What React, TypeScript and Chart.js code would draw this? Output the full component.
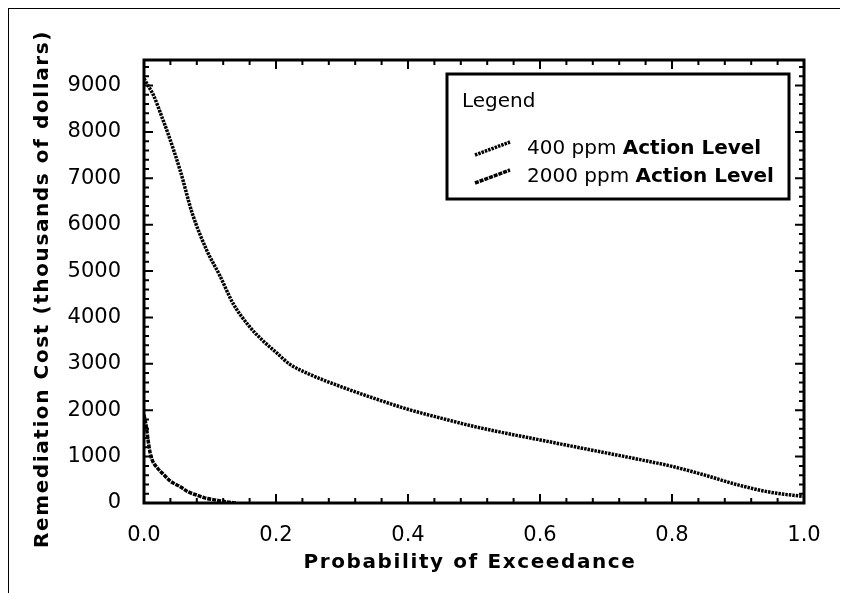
import React, { useEffect, useRef } from 'react';
import { Chart, registerables } from 'chart.js';

Chart.register(...registerables);

// ---- data ----
const x400 = [0, 0.006, 0.014, 0.029, 0.036, 0.055, 0.073, 0.095, 0.115, 0.135, 0.16, 0.18, 0.2, 0.22, 0.25, 0.3, 0.35, 0.4, 0.45, 0.5, 0.55, 0.6, 0.65, 0.7, 0.75, 0.8, 0.85, 0.9, 0.95, 1.0];
const y400 = [9150, 9000, 8800, 8250, 7980, 7160, 6250, 5450, 4900, 4300, 3800, 3500, 3250, 3000, 2780, 2500, 2250, 2020, 1830, 1650, 1500, 1360, 1220, 1080, 940, 790, 600, 390, 230, 140];
const x2000 = [0, 0.004, 0.006, 0.009, 0.012, 0.02, 0.03, 0.04, 0.055, 0.067, 0.08, 0.092, 0.11, 0.126, 0.14];
const y2000 = [1900, 1600, 1370, 1100, 940, 760, 610, 470, 350, 240, 170, 110, 60, 20, 0];
const seriesLabels = ['400 ppm Action Level', '2000 ppm Action Level'];
const xTickValues = [0, 0.2, 0.4, 0.6, 0.8, 1.0];
const yTickValues = [0, 1000, 2000, 3000, 4000, 5000, 6000, 7000, 8000, 9000];
const xTitle = 'Probability of Exceedance';
const yTitle = 'Remediation Cost (thousands of dollars)';
const legendTitle = 'Legend';

const FONT = "'DejaVu Sans', sans-serif";

const frameLegendPlugin = {
  id: 'frameLegend',
  afterDatasetsDraw(chart: any) {
    const { ctx, chartArea: a, scales } = chart;
    const xs = scales.x;
    const ys = scales.y;
    ctx.save();
    ctx.strokeStyle = '#000';
    ctx.fillStyle = '#000';
    ctx.setLineDash([]);

    // outer figure border (left + top)
    ctx.fillRect(7, 7, 2, chart.height - 7);
    ctx.fillRect(7, 7, 838, 2);

    // inward ticks
    ctx.lineWidth = 2;
    ctx.beginPath();
    for (let i = 0; i <= 25; i++) {
      const px = xs.getPixelForValue(i * 0.04);
      const len = i % 5 === 0 ? 9 : 5;
      ctx.moveTo(px, a.bottom);
      ctx.lineTo(px, a.bottom - len);
      ctx.moveTo(px, a.top);
      ctx.lineTo(px, a.top + len);
    }
    for (let i = 0; i * 200 <= ys.max; i++) {
      const py = ys.getPixelForValue(i * 200);
      const len = i % 5 === 0 ? 9 : 5;
      ctx.moveTo(a.left, py);
      ctx.lineTo(a.left + len, py);
      ctx.moveTo(a.right, py);
      ctx.lineTo(a.right - len, py);
    }
    ctx.stroke();
    ctx.lineWidth = 3;
    ctx.strokeRect(a.left, a.top, a.right - a.left, a.bottom - a.top);

    // axis titles (letter-spaced bold)
    ctx.save();
    (ctx as any).letterSpacing = '1.6px';
    ctx.font = `bold 20px ${FONT}`;
    ctx.textAlign = 'center';
    ctx.textBaseline = 'middle';
    ctx.fillText(xTitle, (a.left + a.right) / 2 - 4, 563);
    ctx.translate(43, 289);
    ctx.rotate(-Math.PI / 2);
    ctx.fillText(yTitle, 0, 0);
    ctx.restore();

    // legend box
    const bx = a.right - 357;
    const by = a.top + 14;
    const bw = 342;
    const bh = 125;
    ctx.fillStyle = '#fff';
    ctx.fillRect(bx, by, bw, bh);
    ctx.lineWidth = 3;
    ctx.strokeRect(bx, by, bw, bh);
    ctx.fillStyle = '#000';
    ctx.textBaseline = 'middle';
    ctx.textAlign = 'left';
    ctx.font = `20px ${FONT}`;
    ctx.fillText(legendTitle, bx + 15, by + 28);
    const rows = [by + 75, by + 103];
    chart.data.datasets.forEach((ds: any, i: number) => {
      const ry = rows[i];
      ctx.save();
      ctx.lineWidth = ds.borderWidth;
      ctx.setLineDash(ds.borderDash || []);
      ctx.beginPath();
      ctx.moveTo(bx + 28, ry + 6);
      ctx.lineTo(bx + 63, ry - 7);
      ctx.stroke();
      ctx.restore();
      const m = /^(\S+ \S+ )(.*)$/.exec(ds.label);
      let tx = bx + 80;
      if (m) {
        ctx.font = `20px ${FONT}`;
        ctx.fillText(m[1], tx, ry);
        tx += ctx.measureText(m[1]).width;
        ctx.font = `bold 20px ${FONT}`;
        ctx.fillText(m[2], tx, ry);
      } else {
        ctx.font = `20px ${FONT}`;
        ctx.fillText(ds.label, tx, ry);
      }
    });
    ctx.restore();
  },
};

export default function App() {
  const ref = useRef<HTMLCanvasElement | null>(null);
  useEffect(() => {
    if (!ref.current) return;
    const chart = new Chart(ref.current, {
      type: 'line',
      data: {
        datasets: [
          {
            label: seriesLabels[0],
            data: x400.map((x, i) => ({ x, y: y400[i] })),
            borderColor: '#000',
            borderWidth: 3.5,
            borderDash: [2.5, 1],
            pointRadius: 0,
            fill: false,
            cubicInterpolationMode: 'monotone',
          },
          {
            label: seriesLabels[1],
            data: x2000.map((x, i) => ({ x, y: y2000[i] })),
            borderColor: '#000',
            borderWidth: 3.5,
            borderDash: [4, 1],
            pointRadius: 0,
            fill: false,
            cubicInterpolationMode: 'monotone',
          },
        ],
      },
      options: {
        animation: false,
        responsive: false,
        devicePixelRatio: 1,
        layout: { padding: { left: 0, top: 60, right: 44, bottom: 0 } },
        plugins: { legend: { display: false }, tooltip: { enabled: false } },
        scales: {
          x: {
            type: 'linear',
            min: 0,
            max: 1,
            grid: { display: false },
            border: { display: false },
            afterFit: (s: any) => { s.height = 90; },
            afterBuildTicks: (s: any) => { s.ticks = xTickValues.map((v) => ({ value: v })); },
            ticks: {
              color: '#000',
              font: { family: FONT, size: 21 },
              padding: 12,
              maxRotation: 0,
              callback: (v: any) => Number(v).toFixed(1),
            },
            title: { display: false, text: xTitle },
          },
          y: {
            type: 'linear',
            min: 0,
            max: 9550,
            grid: { display: false },
            border: { display: false },
            afterFit: (s: any) => { s.width = 144; },
            afterBuildTicks: (s: any) => { s.ticks = yTickValues.map((v) => ({ value: v })); },
            ticks: {
              color: '#000',
              font: { family: FONT, size: 21 },
              padding: 15,
              callback: (v: any) => String(v),
            },
            title: { display: false, text: yTitle },
          },
        },
      },
      plugins: [frameLegendPlugin],
    } as any);
    return () => chart.destroy();
  }, []);

  return (
    <div style={{ position: 'relative', width: 848, height: 593, margin: '-8px 0 0 -8px', background: '#fff' }}>
      <canvas ref={ref} width={848} height={593} style={{ position: 'absolute', left: 0, top: 0 }} />
    </div>
  );
}
